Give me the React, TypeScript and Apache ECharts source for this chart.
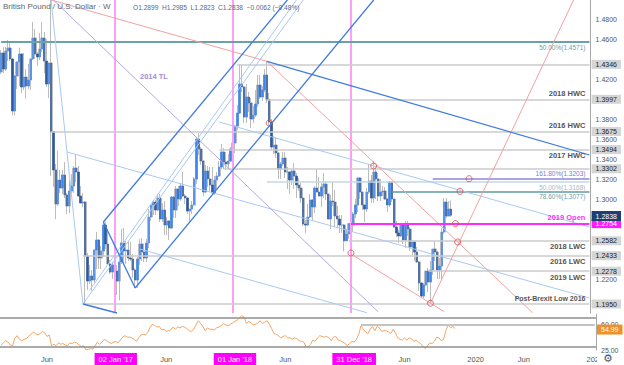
import React, { useEffect, useRef } from 'react';
import * as echarts from 'echarts';

// ---------- data ----------
const firstWeekUTC = Date.UTC(2016, 0, 18);
const weekCount = 260;

// weekly bars: [open, high, low, close]
const ohlc2016 = [
  [1.4270, 1.4490, 1.4250, 1.4460], [1.4460, 1.4520, 1.4260, 1.4300], [1.4300, 1.4520, 1.4280, 1.4480],
  [1.4480, 1.4590, 1.4380, 1.4510], [1.4510, 1.4560, 1.4380, 1.4400], [1.4400, 1.4410, 1.3836, 1.3880],
  [1.3880, 1.4240, 1.3835, 1.4230], [1.4230, 1.4380, 1.4100, 1.4370], [1.4370, 1.4515, 1.4130, 1.4450],
  [1.4450, 1.4460, 1.4060, 1.4120], [1.4120, 1.4460, 1.4090, 1.4220], [1.4220, 1.4300, 1.4005, 1.4130],
  [1.4130, 1.4350, 1.4100, 1.4190], [1.4190, 1.4410, 1.4090, 1.4400], [1.4400, 1.4770, 1.4390, 1.4610],
  [1.4610, 1.4700, 1.4400, 1.4450], [1.4450, 1.4470, 1.4330, 1.4420], [1.4420, 1.4660, 1.4390, 1.4500],
  [1.4500, 1.4770, 1.4470, 1.4610], [1.4610, 1.4670, 1.4260, 1.4380], [1.4380, 1.4600, 1.4120, 1.4150],
  [1.4150, 1.4360, 1.4010, 1.4360], [1.4360, 1.5018, 1.3229, 1.3675], [1.3675, 1.3680, 1.3120, 1.3290],
  [1.3290, 1.3350, 1.2798, 1.2950], [1.2950, 1.3480, 1.2930, 1.3190], [1.3190, 1.3290, 1.3060, 1.3110],
  [1.3110, 1.3290, 1.3050, 1.3240], [1.3240, 1.3370, 1.3010, 1.3040], [1.3040, 1.3060, 1.2850, 1.2930],
  [1.2930, 1.3190, 1.2860, 1.3080], [1.3080, 1.3250, 1.3060, 1.3130], [1.3130, 1.3330, 1.3060, 1.3310],
  [1.3310, 1.3440, 1.3170, 1.3270], [1.3270, 1.3330, 1.3030, 1.3030], [1.3030, 1.3130, 1.2960, 1.2960],
  [1.2960, 1.3060, 1.2920, 1.2970], [1.2970, 1.2980, 1.1950, 1.2430], [1.2430, 1.2460, 1.2090, 1.2180],
  [1.2180, 1.2340, 1.2150, 1.2230], [1.2230, 1.2290, 1.2080, 1.2190], [1.2190, 1.2500, 1.2160, 1.2490],
  [1.2490, 1.2670, 1.2300, 1.2590], [1.2590, 1.2600, 1.2300, 1.2410], [1.2410, 1.2530, 1.2300, 1.2480],
  [1.2480, 1.2770, 1.2420, 1.2740], [1.2740, 1.2775, 1.2500, 1.2550], [1.2550, 1.2700, 1.2350, 1.2350],
  [1.2350, 1.2390, 1.2250, 1.2270], [1.2270, 1.2370, 1.2200, 1.2340],
];
const ohlc2017 = [
  [1.2340, 1.2430, 1.2200, 1.2280], [1.2280, 1.2340, 1.2040, 1.2180], [1.2180, 1.2420, 1.1986, 1.2370],
  [1.2370, 1.2700, 1.2350, 1.2560], [1.2560, 1.2710, 1.2350, 1.2480], [1.2480, 1.2580, 1.2350, 1.2490],
  [1.2490, 1.2580, 1.2380, 1.2410], [1.2410, 1.2570, 1.2380, 1.2400], [1.2400, 1.2450, 1.2210, 1.2290],
  [1.2290, 1.2310, 1.2110, 1.2190], [1.2190, 1.2420, 1.2110, 1.2400], [1.2400, 1.2600, 1.2340, 1.2550],
  [1.2550, 1.2610, 1.2380, 1.2470], [1.2470, 1.2530, 1.2370, 1.2410], [1.2410, 1.2600, 1.2370, 1.2560],
  [1.2560, 1.2900, 1.2510, 1.2820], [1.2820, 1.2950, 1.2780, 1.2940], [1.2940, 1.2990, 1.2840, 1.2970],
  [1.2970, 1.2990, 1.2840, 1.2890], [1.2890, 1.3050, 1.2880, 1.3010], [1.3010, 1.3050, 1.2770, 1.2800],
  [1.2800, 1.2960, 1.2770, 1.2890], [1.2890, 1.2980, 1.2640, 1.2740], [1.2740, 1.2820, 1.2640, 1.2780],
  [1.2780, 1.2790, 1.2590, 1.2710], [1.2710, 1.3030, 1.2700, 1.3020], [1.3020, 1.3030, 1.2810, 1.2890],
  [1.2890, 1.3130, 1.2810, 1.3100], [1.3100, 1.3130, 1.2930, 1.3000], [1.3000, 1.3160, 1.2980, 1.3130],
  [1.3130, 1.3270, 1.3020, 1.3030], [1.3030, 1.3050, 1.2950, 1.3010], [1.3010, 1.3020, 1.2850, 1.2880],
  [1.2880, 1.2900, 1.2770, 1.2900], [1.2900, 1.2980, 1.2850, 1.2940], [1.2940, 1.3220, 1.2940, 1.3200],
  [1.3200, 1.3620, 1.3150, 1.3600], [1.3600, 1.3660, 1.3440, 1.3500], [1.3500, 1.3520, 1.3340, 1.3380],
  [1.3380, 1.3390, 1.3030, 1.3070], [1.3070, 1.3340, 1.3060, 1.3280], [1.3280, 1.3330, 1.3120, 1.3200],
  [1.3200, 1.3320, 1.3080, 1.3140], [1.3140, 1.3320, 1.3040, 1.3060], [1.3060, 1.3230, 1.3040, 1.3190],
  [1.3190, 1.3270, 1.3100, 1.3230], [1.3230, 1.3380, 1.3220, 1.3320], [1.3320, 1.3550, 1.3300, 1.3470],
  [1.3470, 1.3510, 1.3300, 1.3370], [1.3370, 1.3470, 1.3300, 1.3350], [1.3350, 1.3450, 1.3300, 1.3380],
  [1.3380, 1.3520, 1.3370, 1.3500],
];
const ohlc2018 = [
  [1.3500, 1.3610, 1.3460, 1.3560], [1.3560, 1.3740, 1.3460, 1.3730], [1.3730, 1.3940, 1.3690, 1.3860],
  [1.3860, 1.4346, 1.3850, 1.4150], [1.4150, 1.4340, 1.4070, 1.4120], [1.4120, 1.4130, 1.3760, 1.3820],
  [1.3820, 1.4150, 1.3760, 1.4020], [1.4020, 1.4070, 1.3870, 1.3960], [1.3960, 1.4010, 1.3710, 1.3800],
  [1.3800, 1.3930, 1.3760, 1.3840], [1.3840, 1.4090, 1.3820, 1.3950], [1.3950, 1.4240, 1.3920, 1.4140],
  [1.4140, 1.4240, 1.4000, 1.4020], [1.4020, 1.4130, 1.3980, 1.4090], [1.4090, 1.4300, 1.4070, 1.4240],
  [1.4240, 1.4377, 1.3960, 1.3997], [1.3997, 1.4060, 1.3740, 1.3770], [1.3770, 1.3800, 1.3490, 1.3520],
  [1.3520, 1.3630, 1.3450, 1.3540], [1.3540, 1.3620, 1.3410, 1.3460], [1.3460, 1.3470, 1.3200, 1.3300],
  [1.3300, 1.3370, 1.3200, 1.3350], [1.3350, 1.3470, 1.3330, 1.3410], [1.3410, 1.3470, 1.3210, 1.3270],
  [1.3270, 1.3320, 1.3100, 1.3270], [1.3270, 1.3280, 1.3050, 1.3190], [1.3190, 1.3290, 1.3140, 1.3280],
  [1.3280, 1.3360, 1.3100, 1.3230], [1.3230, 1.3260, 1.3010, 1.3140], [1.3140, 1.3210, 1.3080, 1.3110],
  [1.3110, 1.3170, 1.2960, 1.3010], [1.3010, 1.3030, 1.2730, 1.2750], [1.2750, 1.2790, 1.2660, 1.2740],
  [1.2740, 1.2950, 1.2730, 1.2820], [1.2820, 1.3050, 1.2810, 1.2990], [1.2990, 1.3000, 1.2790, 1.2920],
  [1.2920, 1.3130, 1.2860, 1.3110], [1.3110, 1.3300, 1.3070, 1.3070], [1.3070, 1.3220, 1.3030, 1.3030],
  [1.3030, 1.3160, 1.2920, 1.3120], [1.3120, 1.3260, 1.3010, 1.3150], [1.3150, 1.3180, 1.2990, 1.3050],
  [1.3050, 1.3060, 1.2800, 1.2800], [1.2800, 1.3040, 1.2700, 1.2980], [1.2980, 1.3170, 1.2930, 1.2970],
  [1.2970, 1.3090, 1.2720, 1.2830], [1.2830, 1.2930, 1.2720, 1.2800], [1.2800, 1.2840, 1.2660, 1.2740],
  [1.2740, 1.2840, 1.2660, 1.2740], [1.2740, 1.2750, 1.2477, 1.2582], [1.2582, 1.2700, 1.2580, 1.2650],
  [1.2650, 1.2760, 1.2600, 1.2754],
];
const ohlc2019 = [
  [1.2754, 1.2850, 1.2450, 1.2740], [1.2740, 1.2870, 1.2670, 1.2850], [1.2850, 1.3000, 1.2810, 1.2940],
  [1.2940, 1.3220, 1.2870, 1.3210], [1.3210, 1.3220, 1.3000, 1.3070], [1.3070, 1.3070, 1.2890, 1.2940],
  [1.2940, 1.2940, 1.2770, 1.2900], [1.2900, 1.3110, 1.2870, 1.3070], [1.3070, 1.3350, 1.3050, 1.3180],
  [1.3180, 1.3240, 1.2960, 1.3010], [1.3010, 1.3381, 1.2960, 1.3270], [1.3270, 1.3320, 1.3000, 1.3200],
  [1.3200, 1.3260, 1.2980, 1.3030], [1.3030, 1.3200, 1.2980, 1.3070], [1.3070, 1.3130, 1.3030, 1.3080],
  [1.3080, 1.3120, 1.2990, 1.3000], [1.3000, 1.3010, 1.2870, 1.2940], [1.2940, 1.3180, 1.2920, 1.3170],
  [1.3170, 1.3170, 1.2970, 1.3000], [1.3000, 1.3000, 1.2710, 1.2720], [1.2720, 1.2780, 1.2620, 1.2660],
  [1.2660, 1.2690, 1.2560, 1.2630], [1.2630, 1.2760, 1.2620, 1.2740], [1.2740, 1.2760, 1.2550, 1.2590],
  [1.2590, 1.2780, 1.2510, 1.2740], [1.2740, 1.2780, 1.2630, 1.2700], [1.2700, 1.2720, 1.2480, 1.2520],
  [1.2520, 1.2590, 1.2440, 1.2570], [1.2570, 1.2580, 1.2380, 1.2470], [1.2470, 1.2520, 1.2360, 1.2370],
  [1.2370, 1.2380, 1.2080, 1.2160], [1.2160, 1.2170, 1.2020, 1.2030], [1.2030, 1.2160, 1.2010, 1.2140],
  [1.2140, 1.2280, 1.2130, 1.2280], [1.2280, 1.2310, 1.2070, 1.2170], [1.2170, 1.2380, 1.1958, 1.2290],
  [1.2290, 1.2500, 1.2240, 1.2500], [1.2500, 1.2580, 1.2380, 1.2470], [1.2470, 1.2480, 1.2200, 1.2290],
  [1.2290, 1.2410, 1.2200, 1.2330], [1.2330, 1.2710, 1.2200, 1.2670], [1.2670, 1.3010, 1.2650, 1.2970],
  [1.2970, 1.3010, 1.2810, 1.2830], [1.2830, 1.2980, 1.2830, 1.2900], [1.2899, 1.2985, 1.2823, 1.2838],
];

const rsi14 = [
  32, 35, 38, 36, 32, 31, 42, 45, 40, 38,
  40, 41, 44, 47, 50, 48, 46, 48, 51, 49,
  44, 46, 31, 33, 31, 35, 33, 34, 32, 31,
  35, 34, 36, 35, 32, 30, 31, 25, 26, 27,
  26, 31, 36, 33, 36, 40, 38, 36, 34, 36,
  37, 35, 39, 43, 45, 43, 43, 42, 40, 37,
  42, 46, 47, 46, 50, 57, 61, 59, 57, 58,
  53, 54, 51, 52, 53, 57, 54, 57, 56, 58,
  57, 55, 52, 51, 54, 60, 66, 62, 58, 52,
  56, 54, 54, 53, 56, 57, 59, 62, 60, 59,
  61, 63, 65, 67, 70, 73, 71, 62, 65, 63,
  60, 61, 63, 66, 62, 64, 66, 61, 55, 48,
  47, 45, 42, 44, 45, 42, 42, 40, 42, 41,
  38, 37, 36, 30, 30, 33, 39, 37, 42, 45,
  44, 43, 44, 42, 38, 43, 44, 39, 38, 36,
  34, 31, 34, 37, 36, 40, 47, 59, 54, 50,
  48, 54, 58, 52, 58, 56, 51, 52, 52, 50,
  48, 54, 49, 42, 40, 39, 42, 39, 42, 41,
  37, 39, 36, 34, 30, 27, 31, 35, 34, 37,
  43, 42, 38, 40, 52, 60, 56, 58, 54.99,
];

const priceTicks = [1.48, 1.46, 1.42, 1.38, 1.36, 1.34, 1.32, 1.30, 1.22];
const levelTags = [1.4346, 1.3997, 1.3675, 1.3494, 1.3302, 1.2582, 1.2433, 1.2278, 1.1950];
const yearOpen = 1.2754;
const rsiTicks = [25, 60];
const priceMin = 1.186;
const priceMax = 1.499;

const xTickLabels: [string, string][] = [
  ['2016-06-06', 'Jun'], ['2017-01-02', "02 Jan '17"], ['2017-06-05', 'Jun'],
  ['2018-01-01', "01 Jan '18"], ['2018-06-04', 'Jun'], ['2018-12-31', "31 Dec '18"],
  ['2019-06-03', 'Jun'], ['2020-01-06', '2020'], ['2020-06-01', 'Jun'], ['2021-01-04', '2021'],
];
const markerWeeks = ['2017-01-02', '2018-01-01', '2018-12-31'];

const levels = [
  { value: 1.4346, from: '2018-01-15', text: '' },
  { value: 1.3997, from: '2018-04-16', text: '2018 HWC' },
  { value: 1.3675, from: '2016-06-20', text: '2016 HWC' },
  { value: 1.3494, from: '2017-11-20', text: '2017 HWC' },
  { value: 1.3302, from: '2017-12-04', text: '' },
  { value: 1.2582, from: '2018-12-24', text: '2018 LWC' },
  { value: 1.2433, from: '2016-09-26', text: '2016 LWC' },
  { value: 1.2278, from: '2019-08-26', text: '2019 LWC' },
  { value: 1.1950, from: '2016-09-26', text: 'Post-Brexit Low 2016' },
];
const fibLevels = [
  { value: 1.4571, from: '2016-01-18', text: '50.00%(1.4571)' },
  { value: 1.3203, from: '2019-09-09', text: '161.80%(1.3203)' },
  { value: 1.3168, from: '2018-04-16', text: '50.00%(1.3168)' },
  { value: 1.3077, from: '2019-05-06', text: '78.60%(1.3077)' },
];
const openLevel = { value: 1.2754, from: '2018-12-31', text: '2019 Open' };

const redTrendlines: [string, number, string, number][] = [
  ['2016-06-20', 1.499, '2018-04-16', 1.4377],
  ['2018-04-16', 1.4377, '2020-07-13', 1.1862],
  ['2018-12-31', 1.245, '2019-10-14', 1.1874],
  ['2019-09-02', 1.1958, '2020-11-16', 1.499],
];
const channelLines: [string, number, string, number][] = [
  ['2016-11-28', 1.277, '2018-06-18', 1.499],
  ['2017-03-06', 1.211, '2019-03-11', 1.499],
  ['2016-11-28', 1.277, '2017-03-06', 1.211],
  ['2016-09-26', 1.195, '2017-01-09', 1.186],
  ['2018-04-16', 1.4377, '2021-01-04', 1.344],
];
const thinBlueLines: [string, number, string, number][] = [
  ['2016-09-26', 1.195, '2018-08-06', 1.499],
  ['2016-10-17', 1.209, '2018-07-16', 1.499],
  ['2016-06-20', 1.499, '2016-09-26', 1.195],
  ['2016-08-08', 1.347, '2021-01-04', 1.201],
  ['2017-03-20', 1.25, '2019-02-18', 1.1863],
  ['2017-11-20', 1.377, '2021-01-04', 1.272],
];
const trendline2014: [string, number, string, number][] = [
  ['2016-06-27', 1.499, '2019-03-25', 1.1871],
];
const pivotMarks: [string, number][] = [
  ['2018-04-23', 1.376], ['2019-03-11', 1.333], ['2018-12-31', 1.246], ['2019-09-02', 1.1958],
  ['2019-11-18', 1.2754], ['2019-11-25', 1.257], ['2019-12-02', 1.3077], ['2019-12-30', 1.3203],
];

// ---------- helpers ----------
function buildWeeks(): string[] {
  const out: string[] = [];
  for (let i = 0; i < weekCount; i++) {
    out.push(new Date(firstWeekUTC + i * 7 * 86400000).toISOString().slice(0, 10));
  }
  return out;
}

const FONT = 'Liberation Sans';

export default function App() {
  const ref = useRef<HTMLDivElement>(null);

  useEffect(() => {
    if (!ref.current) return;
    const chart = echarts.init(ref.current, undefined, { renderer: 'svg' });
    const weeks = buildWeeks();
    const lastWeek = weeks[weeks.length - 1];
    const bars = [...ohlc2016, ...ohlc2017, ...ohlc2018, ...ohlc2019];
    const candleData = bars.map(([o, h, l, c]) => [o, c, l, h]);
    const bodyData = bars.map(([o, , , c]) => [o, c, Math.min(o, c), Math.max(o, c)]);
    const last = bars[bars.length - 1];
    const prev = bars[bars.length - 2];
    const lastClose = last[3];
    const rsiLast = rsi14[rsi14.length - 1];
    const chg = lastClose - prev[3];
    const pct = (chg / prev[3]) * 100;
    const sign = (v: number) => (v < 0 ? '\u2212' : '+');
    const headerValues = `O${last[0].toFixed(4)}  H${last[1].toFixed(4)}  L${last[2].toFixed(4)}  C${last[3].toFixed(4)}  ${sign(chg)}${Math.abs(chg).toFixed(4)} (${sign(pct)}${Math.abs(pct).toFixed(2)}%)`;

    const tickMap = new Map(xTickLabels);
    const boxed = new Set(markerWeeks);

    const labelsBelow = new Set(['2017 HWC', '2018 LWC', '2016 LWC', '2019 LWC', '50.00%(1.3168)', '78.60%(1.3077)', '50.00%(1.4571)']);

    const hSeg = (from: string, value: number, color: string, width: number, text: string, textColor: string, fontSize: number, bold: boolean) => [
      {
        coord: [from, value],
        lineStyle: { color, width, type: 'solid', opacity: 1 },
        label: {
          show: !!text,
          formatter: text || ' ',
          position: labelsBelow.has(text) ? 'insideEndBottom' : 'insideEndTop',
          color: textColor,
          fontSize,
          fontFamily: FONT,
          fontWeight: bold ? 'bold' : 'normal',
          distance: [4, 2],
        },
      },
      { coord: [lastWeek, value] },
    ];
    const tLine = (l: [string, number, string, number], color: string, width: number) => [
      { coord: [l[0], l[1]], lineStyle: { color, width, type: 'solid', opacity: 1 }, label: { show: false } },
      { coord: [l[2], l[3]] },
    ];
    // price tag drawn at the axis end of an invisible full-width line
    const axisTag = (value: number, bg: string, digits: number, dy: number) => ({
      yAxis: value,
      lineStyle: { color: 'rgba(255,255,255,0)', width: 1, opacity: 1, type: 'solid' },
      label: {
        show: true,
        position: 'end',
        distance: 1,
        offset: [0, dy],
        formatter: value.toFixed(digits),
        color: '#fff',
        backgroundColor: bg,
        padding: [1, 4, 1, 4],
        lineHeight: 8,
        fontSize: 7,
        fontFamily: FONT,
        opacity: 1,
      },
    });

    const mainLines: any[] = [];
    markerWeeks.forEach((d) => {
      mainLines.push([
        { coord: [d, priceMax], lineStyle: { color: '#ff9ef6', width: 2, type: 'solid', opacity: 1 }, label: { show: false } },
        { coord: [d, priceMin] },
      ]);
    });
    levels.forEach((lv) => mainLines.push(hSeg(lv.from, lv.value, '#cbcbcb', 1.5, lv.text, '#555', lv.text.length > 10 ? 7 : 7.5, true)));
    mainLines.push(hSeg(fibLevels[0].from, fibLevels[0].value, '#6aa2a8', 2, fibLevels[0].text, '#6aa2a8', 6.5, false));
    mainLines.push(hSeg(fibLevels[2].from, fibLevels[2].value, '#c2d9e1', 1.5, fibLevels[2].text, '#a7bac3', 6.5, false));
    mainLines.push(hSeg(fibLevels[1].from, fibLevels[1].value, '#8f86d6', 1.5, fibLevels[1].text, '#6b84d8', 6.5, false));
    mainLines.push(hSeg(fibLevels[3].from, fibLevels[3].value, '#5f9aa0', 1.5, fibLevels[3].text, '#6f9ea3', 6.5, false));
    thinBlueLines.forEach((l) => mainLines.push(tLine(l, '#a9c9f2', 1)));
    trendline2014.forEach((l) => mainLines.push(tLine(l, '#b3a9e0', 1)));
    redTrendlines.forEach((l) => mainLines.push(tLine(l, '#f3a0a0', 1)));
    channelLines.forEach((l) => mainLines.push(tLine(l, '#3f7be0', 1.3)));
    mainLines.push(hSeg(openLevel.from, openLevel.value, '#ff2bff', 2, openLevel.text, '#ff2bff', 7.5, true));
    mainLines.push(axisTag(lastClose, '#1d3f73', 4, -3));

    const priceLabelValues = [...priceTicks, ...levelTags, yearOpen];
    const near = (a: number, b: number) => Math.abs(a - b) < 1e-6;

    const option: any = {
      animation: false,
      textStyle: { fontFamily: FONT },
      grid: [
        { left: 0, right: 28, top: 0, height: 313 },
        { left: 0, right: 28, top: 314.25, height: 37.5 },
      ],
      xAxis: [
        {
          type: 'category', gridIndex: 0, data: weeks, boundaryGap: true,
          axisLine: { show: false }, axisTick: { show: false }, axisLabel: { show: false }, splitLine: { show: false },
        },
        {
          type: 'category', gridIndex: 1, data: weeks, boundaryGap: true,
          axisLine: { show: false }, axisTick: { show: false }, splitLine: { show: false },
          axisLabel: {
            interval: (_i: number, v: string) => tickMap.has(v),
            formatter: (v: string) => (boxed.has(v) ? `{m|${tickMap.get(v)}}` : `{p|${tickMap.get(v) || ''}}`),
            margin: 3,
            hideOverlap: false,
            rich: {
              m: { backgroundColor: '#ff00ff', color: '#fff', fontSize: 7.5, padding: [2, 4, 2, 4], fontFamily: FONT },
              p: { color: '#555', fontSize: 7.5, padding: [2, 0, 2, 0], fontFamily: FONT },
            },
          },
        },
      ],
      yAxis: [
        {
          type: 'value', gridIndex: 0, position: 'right', min: priceMin, max: priceMax, scale: true,
          splitLine: { show: false }, axisTick: { show: false },
          axisLine: { show: true, lineStyle: { color: '#a8a8a8', width: 1 } },
          axisLabel: {
            customValues: priceLabelValues,
            margin: 1,
            hideOverlap: false,
            formatter: (v: number) => {
              const s = v.toFixed(4);
              if (near(v, yearOpen)) return `{o|${s}}`;
              if (levelTags.some((t) => near(t, v))) return `{g|${s}}`;
              return `{p|${s}}`;
            },
            rich: {
              p: { color: '#555', fontSize: 7, padding: [1, 3, 1, 4], fontFamily: FONT },
              g: { color: '#222', backgroundColor: '#d5d5d5', fontSize: 7, lineHeight: 8, padding: [1, 4, 1, 4], fontFamily: FONT },
              o: { color: '#fff', backgroundColor: '#ff1dff', fontSize: 7, lineHeight: 8, padding: [1, 4, 1, 4], fontFamily: FONT },
            },
          },
        },
        {
          type: 'value', gridIndex: 1, position: 'right', min: 25, max: 75,
          splitLine: { show: false }, axisTick: { show: false },
          axisLine: { show: true, lineStyle: { color: '#a8a8a8', width: 1 } },
          axisLabel: {
            customValues: rsiTicks,
            margin: 1,
            hideOverlap: false,
            formatter: (v: number) => `{p|${v.toFixed(2)}}`,
            rich: {
              p: { color: '#555', fontSize: 7, padding: [1, 3, 1, 4], fontFamily: FONT },
            },
          },
        },
      ],
      series: [
        {
          type: 'line', name: 'drawings', xAxisIndex: 0, yAxisIndex: 0, data: [], z: 1, silent: true,
          markLine: { symbol: ['none', 'none'], silent: true, animation: false, label: { show: false }, data: mainLines },
        },
        {
          type: 'candlestick', name: 'range', xAxisIndex: 0, yAxisIndex: 0, data: candleData, barWidth: 2.6, z: 3, silent: true,
          itemStyle: { color: '#bcbcbc', color0: '#bcbcbc', borderColor: '#bcbcbc', borderColor0: '#bcbcbc', borderWidth: 1 },
        },
        {
          type: 'candlestick', name: 'body', xAxisIndex: 0, yAxisIndex: 0, data: bodyData, barWidth: 1.8, z: 4, silent: true,
          itemStyle: { color: '#3d86f5', color0: '#2d5a9e', borderColor: '#3d86f5', borderColor0: '#2d5a9e', borderWidth: 0.5 },
        },
        {
          type: 'scatter', name: 'pivots', xAxisIndex: 0, yAxisIndex: 0, data: pivotMarks, symbol: 'circle', symbolSize: 6, z: 5, silent: true,
          itemStyle: { color: 'rgba(255,255,255,0)', borderColor: '#e0474c', borderWidth: 1 },
        },
        {
          type: 'line', name: 'RSI', xAxisIndex: 1, yAxisIndex: 1, data: rsi14, showSymbol: false, z: 3, silent: true,
          lineStyle: { color: '#f4a664', width: 1 },
          markLine: {
            symbol: ['none', 'none'], silent: true, label: { show: false },
            data: [
              { yAxis: 70, lineStyle: { color: '#8e8e8e', width: 1.5, type: 'solid' } },
              { yAxis: 30, lineStyle: { color: '#8e8e8e', width: 1.5, type: 'solid' } },
              [{ coord: ['2019-01-21', 60], lineStyle: { color: '#c3c3c3', width: 2, type: 'solid' } }, { coord: [lastWeek, 60] }],
              axisTag(rsiLast, '#f0902a', 2, 1),
            ],
          },
        },
      ],
      graphic: [
        { type: 'text', left: 3, top: 2, z: 50, style: { text: 'British Pound / U.S. Dollar \u00b7 W', fill: '#666', fontSize: 8, fontFamily: FONT } },
        { type: 'text', left: 133, top: 3.5, z: 50, style: { text: headerValues, fill: '#4f6d94', fontSize: 6.6, fontFamily: FONT } },
        { type: 'text', left: 140, top: 72, z: 50, style: { text: '2014 TL', fill: '#9c8fd3', fontSize: 7.5, fontWeight: 'bold', fontFamily: FONT } },
        { type: 'rect', left: 597, top: 354, z: 100, shape: { width: 27, height: 11 }, style: { fill: '#fff' } },
        { type: 'text', left: 603, top: 353, z: 101, style: { text: '\u2699', fill: '#555', fontSize: 11, fontFamily: 'DejaVu Sans' } },
      ],
    };
    chart.setOption(option);
    return () => chart.dispose();
  }, []);

  return <div ref={ref} style={{ position: 'fixed', left: 0, top: 0, width: 624, height: 365, background: '#fff' }} />;
}
